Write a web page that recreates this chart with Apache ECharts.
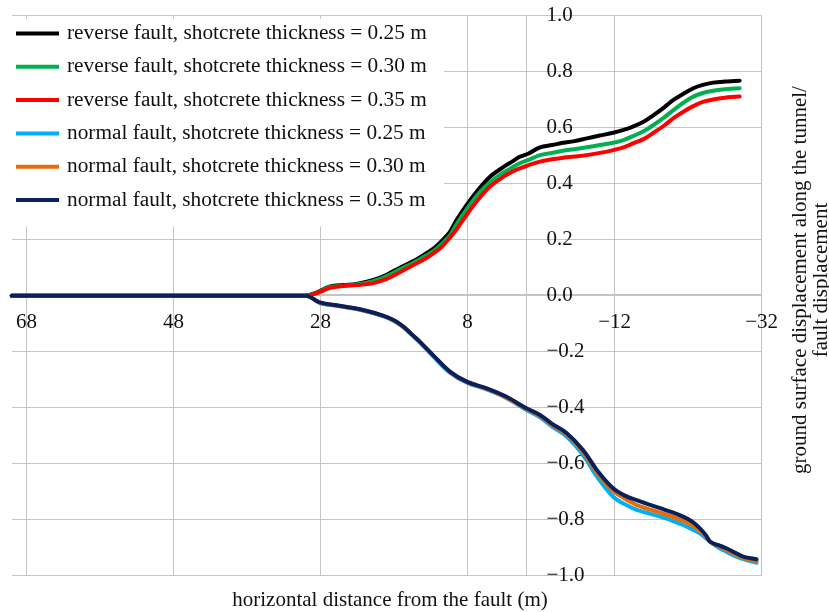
<!DOCTYPE html>
<html>
<head>
<meta charset="utf-8">
<script src="https://cdn.jsdelivr.net/npm/echarts@6/dist/echarts.min.js"></script>
<style>
  html, body { margin: 0; padding: 0; background: #ffffff; }
  #chart { width: 829px; height: 612px; }
</style>
</head>
<body>
<div id="chart"></div>
<script>
// Horizontal distance from the fault (m), reverse-fault runs
const reverseDistance = [70, 30, 28.5, 26.7, 24.9, 23.1, 20.8, 19, 17.2, 15.5, 14.0, 12.7, 11.5, 10.4, 9.5, 8.1, 6.5, 4.95, 3.1, 2.0, 0.9, -0.3, -1.85, -3.5, -5.0, -6.5, -8.2, -10, -11.8, -13.2, -14.5, -16, -17.3, -18.7, -20.0, -21.4, -22.7, -24, -25.4, -27, -29];
const reverse025 = [0, 0, 0.012, 0.033, 0.038, 0.042, 0.056, 0.075, 0.1, 0.122, 0.145, 0.167, 0.196, 0.228, 0.27, 0.325, 0.38, 0.425, 0.46, 0.478, 0.496, 0.508, 0.53, 0.538, 0.546, 0.552, 0.562, 0.572, 0.582, 0.592, 0.604, 0.622, 0.645, 0.672, 0.699, 0.722, 0.741, 0.753, 0.761, 0.765, 0.768];
const reverse030 = [0, 0, 0.01, 0.031, 0.036, 0.04, 0.052, 0.07, 0.094, 0.116, 0.138, 0.158, 0.185, 0.215, 0.255, 0.31, 0.365, 0.405, 0.44, 0.457, 0.473, 0.485, 0.502, 0.51, 0.518, 0.523, 0.53, 0.538, 0.546, 0.556, 0.57, 0.588, 0.61, 0.636, 0.663, 0.69, 0.711, 0.724, 0.732, 0.737, 0.741];
const reverse035 = [0, 0, 0.009, 0.028, 0.035, 0.038, 0.045, 0.06, 0.084, 0.108, 0.128, 0.15, 0.175, 0.207, 0.237, 0.29, 0.345, 0.39, 0.425, 0.442, 0.455, 0.466, 0.479, 0.487, 0.493, 0.497, 0.502, 0.51, 0.52, 0.53, 0.544, 0.56, 0.582, 0.607, 0.634, 0.658, 0.677, 0.692, 0.701, 0.707, 0.711];

// Horizontal distance from the fault (m), normal-fault runs
const normalDistance = [70, 30, 28.1, 25.4, 22.2, 19.5, 18, 16.7, 15.5, 14.5, 12.7, 10.4, 8.1, 5.4, 2.7, 0, -1.85, -3.5, -5.5, -7.7, -9.6, -11.8, -13.4, -15.0, -16.6, -18.2, -19.8, -21.3, -22.5, -23.6, -24.4, -25.0, -26, -27.2, -28.4, -29.5, -31.3];
const normal025 = [0, 0, -0.026, -0.038, -0.053, -0.073, -0.09, -0.113, -0.142, -0.167, -0.216, -0.275, -0.311, -0.335, -0.366, -0.408, -0.434, -0.468, -0.504, -0.569, -0.646, -0.718, -0.745, -0.765, -0.777, -0.789, -0.803, -0.819, -0.834, -0.849, -0.866, -0.879, -0.898, -0.914, -0.93, -0.941, -0.954];
const normal030 = [0, 0, -0.025, -0.037, -0.052, -0.072, -0.089, -0.112, -0.141, -0.166, -0.214, -0.273, -0.309, -0.333, -0.364, -0.405, -0.43, -0.462, -0.496, -0.558, -0.632, -0.697, -0.725, -0.748, -0.762, -0.775, -0.789, -0.804, -0.82, -0.839, -0.86, -0.879, -0.893, -0.908, -0.924, -0.937, -0.948];
const normal035 = [0, 0, -0.024, -0.036, -0.051, -0.071, -0.088, -0.111, -0.14, -0.164, -0.212, -0.271, -0.307, -0.331, -0.361, -0.402, -0.426, -0.458, -0.491, -0.551, -0.623, -0.688, -0.714, -0.73, -0.745, -0.759, -0.773, -0.789, -0.806, -0.831, -0.855, -0.879, -0.89, -0.902, -0.918, -0.932, -0.941];

const seriesNames = [
  'reverse fault, shotcrete thickness = 0.25 m',
  'reverse fault, shotcrete thickness = 0.30 m',
  'reverse fault, shotcrete thickness = 0.35 m',
  'normal fault, shotcrete thickness = 0.25 m',
  'normal fault, shotcrete thickness = 0.30 m',
  'normal fault, shotcrete thickness = 0.35 m'
];
const xTickLabels = [68, 48, 28, 8, -12, -32];
const xAxisTitle = 'horizontal distance from the fault (m)';
const yAxisTitle = ['ground surface displacement along the tunnel/', 'fault displacement'];

const seriesColors = ['#000000', '#00b050', '#ff0000', '#00b0f0', '#e46c0a', '#0a1f5c'];
const FONT = '"Liberation Serif", "Times New Roman", serif';
const GRID = { left: 11.7, right: 67.3, top: 15.7, bottom: 36.3 };

function pairs(xs, ys) {
  return xs.map((x, i) => [x, ys[i]]);
}
function minus(s) {
  return String(s).replace('-', '\u2212');
}

const seriesData = [
  pairs(reverseDistance, reverse025),
  pairs(reverseDistance, reverse030),
  pairs(reverseDistance, reverse035),
  pairs(normalDistance, normal025),
  pairs(normalDistance, normal030),
  pairs(normalDistance, normal035)
];

const chart = echarts.init(document.getElementById('chart'), null, { renderer: 'canvas' });

const gridLine = { color: '#c4c4c4', width: 1 };

chart.setOption({
  animation: false,
  backgroundColor: '#ffffff',
  grid: Object.assign({ containLabel: false }, GRID),
  legend: {
    orient: 'vertical',
    left: 12,
    top: 19,
    padding: [4, 17, 16, 4],
    backgroundColor: '#ffffff',
    icon: 'rect',
    itemWidth: 43,
    itemHeight: 4,
    itemGap: 12.3,
    selectedMode: false,
    data: seriesNames,
    textStyle: {
      fontFamily: FONT,
      fontSize: 21.3,
      lineHeight: 21,
      color: '#111111',
      padding: [0, 0, 0, 3]
    }
  },
  xAxis: {
    type: 'value',
    inverse: true,
    min: -32,
    max: 70,
    interval: 20,
    position: 'bottom',
    axisLine: { onZero: false, lineStyle: gridLine },
    axisTick: { show: false },
    splitLine: { show: true, showMaxLine: false, lineStyle: gridLine },
    axisLabel: {
      showMaxLabel: false,
      margin: 18,
      fontFamily: FONT,
      fontSize: 21,
      color: '#111111',
      formatter: function (v) {
        return xTickLabels.indexOf(v) >= 0 ? minus(v) : '';
      }
    }
  },
  yAxis: {
    type: 'value',
    position: 'right',
    min: -1,
    max: 1,
    interval: 0.2,
    axisLine: { show: true, onZero: false, lineStyle: gridLine },
    axisTick: { show: false },
    splitLine: { show: true, lineStyle: gridLine },
    axisLabel: {
      margin: 20,
      fontFamily: FONT,
      fontSize: 21,
      color: '#111111',
      formatter: function (v) { return minus(v.toFixed(1)); }
    }
  },
  graphic: [
    {
      type: 'text',
      x: 390, y: 600,
      style: {
        text: xAxisTitle,
        font: '21px ' + FONT,
        fill: '#111111',
        align: 'center',
        verticalAlign: 'middle'
      }
    },
    {
      type: 'text',
      x: 800, y: 280,
      rotation: Math.PI / 2,
      style: {
        text: yAxisTitle[0],
        font: '21px ' + FONT,
        fill: '#111111',
        align: 'center',
        verticalAlign: 'middle'
      }
    },
    {
      type: 'text',
      x: 821, y: 280,
      rotation: Math.PI / 2,
      style: {
        text: yAxisTitle[1],
        font: '21px ' + FONT,
        fill: '#111111',
        align: 'center',
        verticalAlign: 'middle'
      }
    }
  ],
  series: seriesNames.map((name, i) => ({
    name: name,
    type: 'line',
    data: seriesData[i],
    smooth: 0.35,
    showSymbol: false,
    symbol: 'none',
    color: seriesColors[i],
    lineStyle: { width: 4, color: seriesColors[i], cap: 'round', join: 'round' },
    z: 2 + i
  }))
});

// Both axes cross at the origin: shift each axis line from the grid edge
// to the pixel where the other axis reads zero.
const H = chart.getHeight();
const W = chart.getWidth();
const zeroY = chart.convertToPixel({ yAxisIndex: 0 }, 0);
const zeroX = chart.convertToPixel({ xAxisIndex: 0 }, 0);
chart.setOption({
  xAxis: { offset: zeroY - (H - GRID.bottom) },
  yAxis: { offset: zeroX - (W - GRID.right) }
});
</script>
</body>
</html>
